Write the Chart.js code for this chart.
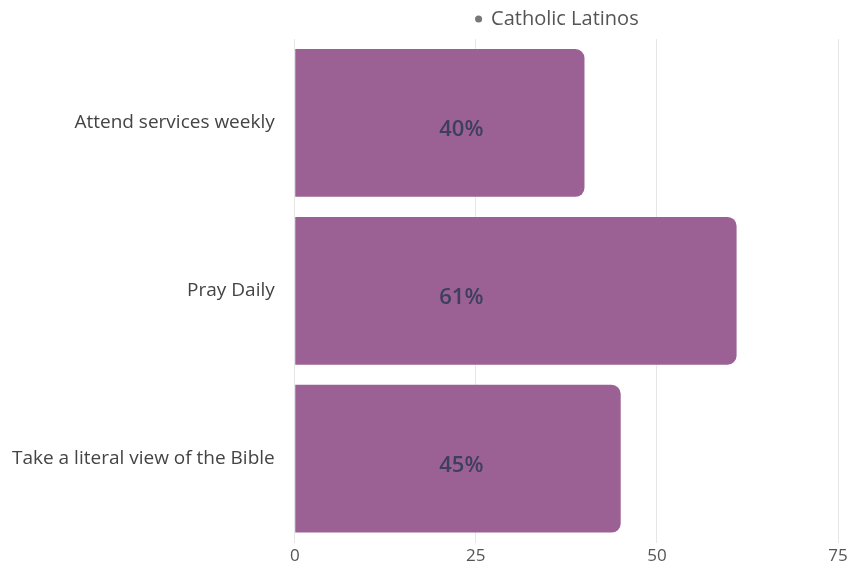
<!DOCTYPE html>
<html>
<head>
<meta charset="utf-8">
<script src="https://cdn.jsdelivr.net/npm/chart.js@4/dist/chart.umd.min.js"></script>
<style>
  html, body { margin: 0; padding: 0; background: #fff; }
  #wrap { width: 854px; height: 569px; }
</style>
</head>
<body>
<div id="wrap"><canvas id="chart" width="854" height="569"></canvas></div>
<script>
// Religious practice among Catholic Latinos (percent)
const categories = ["Attend services weekly", "Pray Daily", "Take a literal view of the Bible"];
const seriesName = "Catholic Latinos";
const values = [40, 61, 45];
const xTicks = [0, 25, 50, 75];

// Writes the "NN%" value label inside each bar
const valueLabels = {
  id: 'valueLabels',
  afterDatasetsDraw(chart) {
    const ctx = chart.ctx;
    const xs = chart.scales.x;
    const meta = chart.getDatasetMeta(0);
    ctx.save();
    ctx.font = '600 22px "Open Sans", sans-serif';
    ctx.fillStyle = '#3d3f5e';
    ctx.textAlign = 'center';
    ctx.textBaseline = 'middle';
    meta.data.forEach((bar, i) => {
      const x = xs.getPixelForValue(23);
      ctx.fillText(values[i] + '%', x, bar.y + 7);
    });
    ctx.restore();
  }
};

// Nudges the legend slightly left of the plot-area centre
const legendNudge = {
  id: 'legendNudge',
  afterLayout(chart) {
    if (chart.legend) {
      chart.legend.left -= 9;
      chart.legend.right -= 9;
    }
  }
};

new Chart(document.getElementById('chart'), {
  type: 'bar',
  data: {
    labels: categories,
    datasets: [{
      label: seriesName,
      data: values,
      backgroundColor: '#9b6194',
      borderRadius: 9,
      borderSkipped: 'start',
      barPercentage: 1,
      categoryPercentage: 0.88
    }]
  },
  options: {
    indexAxis: 'y',
    responsive: false,
    animation: false,
    layout: { padding: { top: 5, right: 16, left: 0, bottom: 0 } },
    plugins: {
      legend: {
        position: 'top',
        fullSize: false,
        labels: {
          usePointStyle: true,
          pointStyle: 'circle',
          boxWidth: 5,
          boxHeight: 5,
          padding: 4,
          color: '#555',
          font: { family: '"Open Sans", sans-serif', size: 20 },
          generateLabels(chart) {
            return [{
              text: seriesName,
              fillStyle: '#777',
              strokeStyle: '#777',
              fontColor: '#555',
              lineWidth: 0,
              pointStyle: 'circle',
              datasetIndex: 0
            }];
          }
        }
      },
      tooltip: { enabled: false }
    },
    scales: {
      x: {
        min: 0,
        max: 75,
        afterBuildTicks(scale) { scale.ticks = xTicks.map(v => ({ value: v })); },
        grid: { color: '#e6e6e6', drawTicks: false },
        border: { display: false },
        ticks: {
          color: '#555',
          padding: 3,
          font: { family: '"Open Sans", sans-serif', size: 17 }
        }
      },
      y: {
        grid: { display: false },
        border: { display: false },
        ticks: {
          color: '#444',
          padding: 12,
          font: { family: '"Open Sans", sans-serif', size: 19 }
        }
      }
    }
  },
  plugins: [valueLabels, legendNudge]
});
</script>
</body>
</html>
